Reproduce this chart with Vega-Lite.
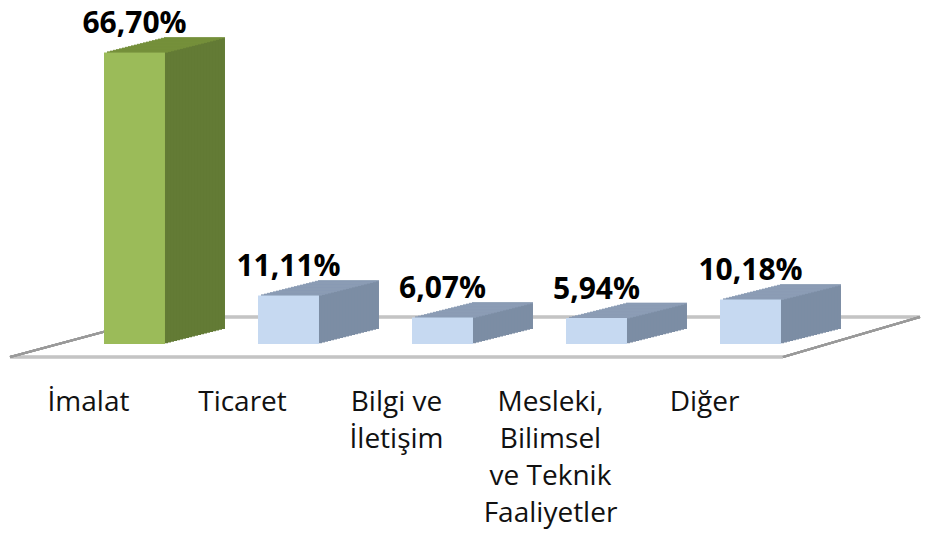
{
  "$schema": "https://vega.github.io/schema/vega-lite/v6.json",
  "width": 770,
  "height": 306,
  "autosize": {"type": "none"},
  "padding": {"left": 57.5, "top": 38, "right": 99.5, "bottom": 192},
  "background": "white",
  "config": {
    "view": {"stroke": null},
    "font": "Open Sans"
  },
  "data": {
    "values": [
      {"cat": "İmalat", "value": 66.70},
      {"cat": "Ticaret", "value": 11.11},
      {"cat": "Bilgi ve\nİletişim", "value": 6.07},
      {"cat": "Mesleki,\nBilimsel\nve Teknik\nFaaliyetler", "value": 5.94},
      {"cat": "Diğer", "value": 10.18}
    ]
  },
  "resolve": {"axis": {"x": "independent", "y": "independent"}},
  "layer": [
    {"mark": {"type": "rule", "color": "#c4c4c4", "strokeWidth": 2.5, "xOffset": -124.5, "x2Offset": 32.5, "yOffset": 13, "y2Offset": 13},
     "encoding": {"x": {"datum": "İmalat", "type": "nominal", "axis": null}, "x2": {"datum": "Diğer"}, "y": {"datum": 0, "type": "quantitative", "axis": null}, "y2": {"datum": 0}}},
    {"mark": {"type": "rule", "color": "#c4c4c4", "strokeWidth": 2.5, "xOffset": 24.5, "x2Offset": 169.5, "yOffset": -27, "y2Offset": -27},
     "encoding": {"x": {"datum": "İmalat", "type": "nominal", "axis": null}, "x2": {"datum": "Diğer"}, "y": {"datum": 0, "type": "quantitative", "axis": null}, "y2": {"datum": 0}}},
    {"mark": {"type": "rule", "color": "#9a9a9a", "strokeWidth": 2, "xOffset": -124.5, "x2Offset": 24.5, "yOffset": 13, "y2Offset": -27},
     "encoding": {"x": {"datum": "İmalat", "type": "nominal", "axis": null}, "x2": {"datum": "İmalat"}, "y": {"datum": 0, "type": "quantitative", "axis": null}, "y2": {"datum": 0}}},
    {"mark": {"type": "rule", "color": "#9a9a9a", "strokeWidth": 2, "xOffset": 32.5, "x2Offset": 169.5, "yOffset": 13, "y2Offset": -27},
     "encoding": {"x": {"datum": "Diğer", "type": "nominal", "axis": null}, "x2": {"datum": "Diğer"}, "y": {"datum": 0, "type": "quantitative", "axis": null}, "y2": {"datum": 0}}},
    {
      "encoding": {
        "x": {
          "field": "cat", "type": "nominal", "sort": null,
          "scale": {"domain": ["İmalat", "Ticaret", "Bilgi ve\nİletişim", "Mesleki,\nBilimsel\nve Teknik\nFaaliyetler", "Diğer"], "paddingInner": 0.604, "paddingOuter": 0.302},
          "axis": {"title": null, "domain": false, "ticks": false, "tickSize": 0, "grid": false, "labelAngle": 0, "labelPadding": 44, "labelOffset": -46, "labelFontSize": 28, "labelLineHeight": 37, "labelColor": "#111111", "labelBaseline": "top", "labelExpr": "split(datum.label, '\\n')", "labelOverlap": false, "labelBound": false}
        },
        "y": {"field": "value", "type": "quantitative", "scale": {"domain": [0, 70], "nice": false}, "axis": null}
      },
      "layer": [
        {
          "encoding": {"color": {"condition": {"test": "datum.cat === 'İmalat'", "value": "#637b35"}, "value": "#7c8da4"}},
          "layer": [
            {"mark": {"type": "bar", "xOffset": 60, "x2Offset": 60, "yOffset": -15, "y2Offset": -15}},
            {"mark": {"type": "bar", "xOffset": 57, "x2Offset": 57, "yOffset": -14.25, "y2Offset": -14.25}},
            {"mark": {"type": "bar", "xOffset": 54, "x2Offset": 54, "yOffset": -13.5, "y2Offset": -13.5}},
            {"mark": {"type": "bar", "xOffset": 51, "x2Offset": 51, "yOffset": -12.75, "y2Offset": -12.75}},
            {"mark": {"type": "bar", "xOffset": 48, "x2Offset": 48, "yOffset": -12, "y2Offset": -12}},
            {"mark": {"type": "bar", "xOffset": 45, "x2Offset": 45, "yOffset": -11.25, "y2Offset": -11.25}},
            {"mark": {"type": "bar", "xOffset": 42, "x2Offset": 42, "yOffset": -10.5, "y2Offset": -10.5}},
            {"mark": {"type": "bar", "xOffset": 39, "x2Offset": 39, "yOffset": -9.75, "y2Offset": -9.75}},
            {"mark": {"type": "bar", "xOffset": 36, "x2Offset": 36, "yOffset": -9, "y2Offset": -9}},
            {"mark": {"type": "bar", "xOffset": 33, "x2Offset": 33, "yOffset": -8.25, "y2Offset": -8.25}},
            {"mark": {"type": "bar", "xOffset": 30, "x2Offset": 30, "yOffset": -7.5, "y2Offset": -7.5}},
            {"mark": {"type": "bar", "xOffset": 27, "x2Offset": 27, "yOffset": -6.75, "y2Offset": -6.75}},
            {"mark": {"type": "bar", "xOffset": 24, "x2Offset": 24, "yOffset": -6, "y2Offset": -6}},
            {"mark": {"type": "bar", "xOffset": 21, "x2Offset": 21, "yOffset": -5.25, "y2Offset": -5.25}},
            {"mark": {"type": "bar", "xOffset": 18, "x2Offset": 18, "yOffset": -4.5, "y2Offset": -4.5}},
            {"mark": {"type": "bar", "xOffset": 15, "x2Offset": 15, "yOffset": -3.75, "y2Offset": -3.75}},
            {"mark": {"type": "bar", "xOffset": 12, "x2Offset": 12, "yOffset": -3, "y2Offset": -3}},
            {"mark": {"type": "bar", "xOffset": 9, "x2Offset": 9, "yOffset": -2.25, "y2Offset": -2.25}},
            {"mark": {"type": "bar", "xOffset": 6, "x2Offset": 6, "yOffset": -1.5, "y2Offset": -1.5}},
            {"mark": {"type": "bar", "xOffset": 3, "x2Offset": 3, "yOffset": -0.75, "y2Offset": -0.75}}
          ]
        },
        {
          "encoding": {"color": {"condition": {"test": "datum.cat === 'İmalat'", "value": "#77933c"}, "value": "#8d9eb6"}},
          "layer": [
            {"mark": {"type": "tick", "orient": "horizontal", "size": 61, "thickness": 1.6, "xOffset": 60, "yOffset": -14.625}},
            {"mark": {"type": "tick", "orient": "horizontal", "size": 61, "thickness": 1.6, "xOffset": 57, "yOffset": -13.875}},
            {"mark": {"type": "tick", "orient": "horizontal", "size": 61, "thickness": 1.6, "xOffset": 54, "yOffset": -13.125}},
            {"mark": {"type": "tick", "orient": "horizontal", "size": 61, "thickness": 1.6, "xOffset": 51, "yOffset": -12.375}},
            {"mark": {"type": "tick", "orient": "horizontal", "size": 61, "thickness": 1.6, "xOffset": 48, "yOffset": -11.625}},
            {"mark": {"type": "tick", "orient": "horizontal", "size": 61, "thickness": 1.6, "xOffset": 45, "yOffset": -10.875}},
            {"mark": {"type": "tick", "orient": "horizontal", "size": 61, "thickness": 1.6, "xOffset": 42, "yOffset": -10.125}},
            {"mark": {"type": "tick", "orient": "horizontal", "size": 61, "thickness": 1.6, "xOffset": 39, "yOffset": -9.375}},
            {"mark": {"type": "tick", "orient": "horizontal", "size": 61, "thickness": 1.6, "xOffset": 36, "yOffset": -8.625}},
            {"mark": {"type": "tick", "orient": "horizontal", "size": 61, "thickness": 1.6, "xOffset": 33, "yOffset": -7.875}},
            {"mark": {"type": "tick", "orient": "horizontal", "size": 61, "thickness": 1.6, "xOffset": 30, "yOffset": -7.125}},
            {"mark": {"type": "tick", "orient": "horizontal", "size": 61, "thickness": 1.6, "xOffset": 27, "yOffset": -6.375}},
            {"mark": {"type": "tick", "orient": "horizontal", "size": 61, "thickness": 1.6, "xOffset": 24, "yOffset": -5.625}},
            {"mark": {"type": "tick", "orient": "horizontal", "size": 61, "thickness": 1.6, "xOffset": 21, "yOffset": -4.875}},
            {"mark": {"type": "tick", "orient": "horizontal", "size": 61, "thickness": 1.6, "xOffset": 18, "yOffset": -4.125}},
            {"mark": {"type": "tick", "orient": "horizontal", "size": 61, "thickness": 1.6, "xOffset": 15, "yOffset": -3.375}},
            {"mark": {"type": "tick", "orient": "horizontal", "size": 61, "thickness": 1.6, "xOffset": 12, "yOffset": -2.625}},
            {"mark": {"type": "tick", "orient": "horizontal", "size": 61, "thickness": 1.6, "xOffset": 9, "yOffset": -1.875}},
            {"mark": {"type": "tick", "orient": "horizontal", "size": 61, "thickness": 1.6, "xOffset": 6, "yOffset": -1.125}},
            {"mark": {"type": "tick", "orient": "horizontal", "size": 61, "thickness": 1.6, "xOffset": 3, "yOffset": -0.375}}
          ]
        },
        {
          "mark": {"type": "bar"},
          "encoding": {"color": {"condition": {"test": "datum.cat === 'İmalat'", "value": "#9bbb59"}, "value": "#c6d9f1"}}
        },
        {
          "mark": {"type": "text", "fontSize": 30, "fontWeight": "bold", "baseline": "alphabetic", "align": "center", "dy": -19, "color": "#000000",
                   "text": {"expr": "replace(format(datum.value, '.2f'), '.', ',') + '%'"}}
        }
      ]
    }
  ]
}
